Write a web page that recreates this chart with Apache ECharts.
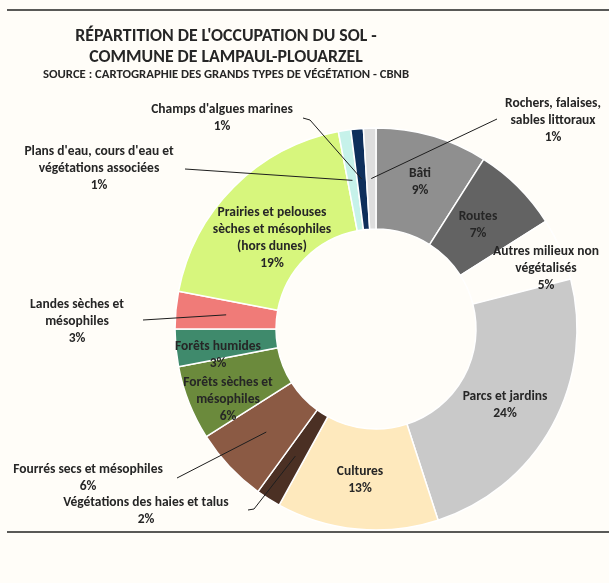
<!DOCTYPE html>
<html>
<head>
<meta charset="utf-8">
<script src="https://cdn.jsdelivr.net/npm/echarts@6/dist/echarts.min.js"></script>
<style>
  html, body { margin: 0; padding: 0; background: #fffdf8; }
  #chart { width: 609px; height: 583px; }
</style>
</head>
<body>
<div id="chart"></div>
<script>
// categories, clockwise from 12 o'clock
var categories = [
  'Bâti', 'Routes', 'Autres milieux non végétalisés', 'Parcs et jardins',
  'Cultures', 'Végétations des haies et talus', 'Fourrés secs et mésophiles',
  'Forêts sèches et mésophiles', 'Forêts humides', 'Landes sèches et mésophiles',
  'Prairies et pelouses sèches et mésophiles (hors dunes)',
  "Plans d'eau, cours d'eau et végétations associées",
  "Champs d'algues marines", 'Rochers, falaises, sables littoraux'
]
// label text as printed on the chart (with line breaks)
var labelTexts = [
  'Bâti', 'Routes', 'Autres milieux non\nvégétalisés', 'Parcs et jardins',
  'Cultures', 'Végétations des haies et talus', 'Fourrés secs et mésophiles',
  'Forêts sèches et\nmésophiles', 'Forêts humides', 'Landes sèches et\nmésophiles',
  'Prairies et pelouses\nsèches et mésophiles\n(hors dunes)',
  "Plans d'eau, cours d'eau et\nvégétations associées",
  "Champs d'algues marines", 'Rochers, falaises,\nsables littoraux'
]
var percents = [9, 7, 5, 24, 13, 2, 6, 6, 3, 3, 19, 1, 1, 1]
var colors = [
  '#8f8f8f', '#636363', '#fffdf8', '#c9c9c9', '#fee9bd', '#4b3024', '#8b5a44',
  '#6b8a3c', '#3f8a6c', '#f07b78', '#d7f67d', '#c6f2ea', '#0e2f5b', '#dedede'
]

// label placement (center of the text block) and leader-line start, if any
var CX = 376, CY = 329, R_IN = 100, R_OUT = 201
var labelPlaces = {
  0: { x: 420, y: 182 },
  1: { x: 478, y: 225 },
  2: { x: 546, y: 269 },
  3: { x: 505, y: 405 },
  4: { x: 360, y: 480 },
  5: { x: 146, y: 511, line: [[248, 510], [254, 509]] },
  6: { x: 88, y: 478, line: [[177, 478]] },
  7: { x: 228, y: 400 },
  8: { x: 218, y: 355 },
  9: { x: 77, y: 322, line: [[143, 320]] },
  10: { x: 272, y: 238 },
  11: { x: 99, y: 169, line: [[185, 169]] },
  12: { x: 222, y: 118, line: [[303, 118], [310, 120]] },
  13: { x: 553, y: 121, line: [[497, 119]] }
}

// middle of a slice, half-way through the ring
function ringMid (i) {
  var total = percents.reduce(function (a, b) { return a + b }, 0)
  var cum = 0
  for (var k = 0; k < i; k++) cum += percents[k]
  var a = (cum + percents[i] / 2) / total * Math.PI * 2
  var r = (R_IN + R_OUT) / 2
  return [CX + r * Math.sin(a), CY - r * Math.cos(a)]
}

var FONT = 'Carlito, Lato, "Open Sans", sans-serif'

var seriesData = categories.map(function (name, i) {
  return {
    name: name,
    value: percents[i],
    itemStyle: { color: colors[i] }
  }
})

// frame lines + leader lines
var graphics = [
  { type: 'line', shape: { x1: 7, y1: 10, x2: 609, y2: 10 }, style: { stroke: '#222', lineWidth: 1.5 } },
  { type: 'line', shape: { x1: 7, y1: 532, x2: 609, y2: 532 }, style: { stroke: '#222', lineWidth: 1.5 } }
]
Object.keys(labelPlaces).forEach(function (k) {
  var pl = labelPlaces[k]
  if (!pl.line) return
  graphics.push({
    type: 'polyline',
    z: 100,
    silent: true,
    shape: { points: pl.line.concat([ringMid(+k)]) },
    style: { stroke: '#1e1e1e', lineWidth: 1, fill: null }
  })
})

var option = {
  backgroundColor: '#fffdf8',
  animation: false,
  title: [
    {
      text: "RÉPARTITION DE L'OCCUPATION DU SOL -\nCOMMUNE DE LAMPAUL-PLOUARZEL",
      left: 221,
      top: 21,
      textAlign: 'center',
      textStyle: {
        fontFamily: FONT,
        fontSize: 17.8,
        fontWeight: 'bold',
        color: '#262626',
        lineHeight: 21
      }
    },
    {
      text: 'SOURCE : CARTOGRAPHIE DES GRANDS TYPES DE VÉGÉTATION - CBNB',
      left: 221,
      top: 63,
      textAlign: 'center',
      textStyle: {
        fontFamily: FONT,
        fontSize: 12.7,
        fontWeight: 'bold',
        color: '#262626'
      }
    }
  ],
  graphic: graphics,
  series: [
    {
      type: 'pie',
      center: [CX, CY],
      radius: [R_IN, R_OUT],
      startAngle: 90,
      clockwise: true,
      avoidLabelOverlap: false,
      silent: true,
      itemStyle: { borderColor: '#ffffff', borderWidth: 1.5 },
      label: {
        show: true,
        position: 'inside',
        fontFamily: FONT,
        fontSize: 13.5,
        fontWeight: 'bold',
        color: '#262626',
        lineHeight: 17,
        align: 'center',
        formatter: function (p) {
          return labelTexts[p.dataIndex] + '\n' + p.value + '%'
        }
      },
      labelLine: { show: false },
      labelLayout: function (params) {
        var pl = labelPlaces[params.dataIndex]
        return { x: pl.x, y: pl.y, align: 'center', verticalAlign: 'middle' }
      },
      data: seriesData
    }
  ]
}

var myChart = echarts.init(document.getElementById('chart'))
myChart.setOption(option)
</script>
</body>
</html>
